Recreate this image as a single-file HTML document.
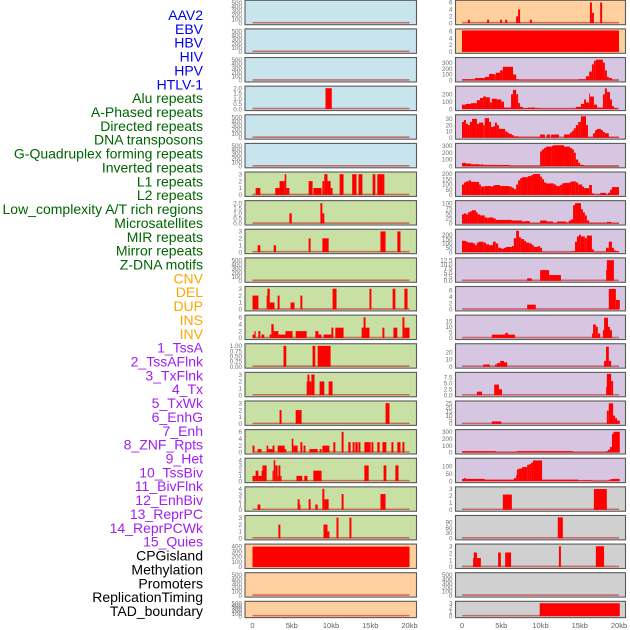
<!DOCTYPE html>
<html><head><meta charset="utf-8"><style>
html,body{margin:0;padding:0;background:#fff;}
svg{display:block;font-family:"Liberation Sans",sans-serif;}
</style></head><body>
<svg id="chart" width="630" height="630" viewBox="0 0 630 630" xmlns="http://www.w3.org/2000/svg"></svg>
<script>
// ---- track labels ----
const trackLabels = ["AAV2","EBV","HBV","HIV","HPV","HTLV-1","Alu repeats","A-Phased repeats","Directed repeats","DNA transposons","G-Quadruplex forming repeats","Inverted repeats","L1 repeats","L2 repeats","Low_complexity A/T rich regions","Microsatellites","MIR repeats","Mirror repeats","Z-DNA motifs","CNV","DEL","DUP","INS","INV","1_TssA","2_TssAFlnk","3_TxFlnk","4_Tx","5_TxWk","6_EnhG","7_Enh","8_ZNF_Rpts","9_Het","10_TssBiv","11_BivFlnk","12_EnhBiv","13_ReprPC","14_ReprPCWk","15_Quies","CPGisland","Methylation","Promoters","ReplicationTiming","TAD_boundary"];
const labelGroups = [6,13,5,15,5];
const groupColors = ["#0000ee","#006400","#ffa500","#a020f0","#000000"];
const xTickLabels = ["0","5kb","10kb","15kb","20kb"];
const xTickValues = [0,5,10,15,20];

// ---- left column ----
const tE = ["0","100","200","300","400","500"];
const t3 = ["0","1","2","3"], t4 = ["0","1","2","3","4"], t6 = ["0","2","4","6"];
const leftTicks = [tE,tE,tE,["0.0","0.5","1.0","1.5","2.0"],tE,tE,t3,["0.0","0.5","1.0","1.5","2.0"],t3,tE,t3,t6,["0.00","0.25","0.50","0.75","1.00"],t3,t3,t6,t4,t4,t3,["0","100","200","300","400"],tE,tE];
const leftYmax = [520,520,520,2.05,520,520,3.1,2.1,3.1,520,3.1,6.2,1.03,3.1,3.1,6.2,4.1,4.1,3.1,410,520,520];
const leftColors = ["#c8e4ec","#c8e4ec","#c8e4ec","#c8e4ec","#c8e4ec","#c8e4ec","#c8e0a4","#c8e0a4","#c8e0a4","#c8e0a4","#c8e0a4","#c8e0a4","#c8e0a4","#c8e0a4","#c8e0a4","#c8e0a4","#c8e0a4","#c8e0a4","#c8e0a4","#ffd09e","#ffd09e","#ffd09e"];
const leftBars = [
 [],[],[],
 [[9.3,10.1,2]],
 [],[],
 [[0.4,1.0,1],[2.9,3.45,1],[3.45,4.1,2],[4.1,4.3,3],[4.3,4.7,1],[7.15,7.65,2],[7.75,8.8,1],[8.9,9.15,2],[9.15,9.55,3],[9.55,9.95,2],[9.95,10.2,1],[11.1,11.6,3],[12.7,13.25,3],[13.5,14.0,3],[15.3,15.65,3],[15.9,16.8,3]],
 [[4.7,5.0,1],[8.65,8.9,2],[8.9,9.15,1]],
 [[0.65,1.0,1],[2.7,3.0,1],[7.15,7.4,2],[8.9,9.7,2],[16.3,16.95,3],[18.45,18.85,3]],
 [],
 [[0,0.75,2],[1.8,1.9,2],[1.9,2.2,3],[2.2,2.8,1],[3.2,3.45,2],[4.85,5.35,1],[6.1,6.35,2],[10.2,10.7,3],[14.9,15.15,3],[17.85,18.2,3],[19.35,19.75,3]],
 [[0,0.25,1],[0.25,0.4,2],[0.75,1.0,2],[1.15,1.5,1],[2.17,2.4,1],[2.4,2.7,4],[2.7,3.3,2],[3.3,4.2,1],[4.2,5.1,2],[5.5,6.9,2],[8.0,8.4,2],[8.4,8.8,1],[9.05,10.05,1],[10.05,10.3,3],[10.55,11.6,3],[13.9,14.15,3],[14.15,14.4,6],[14.4,14.9,3],[16.55,16.8,3],[17.95,18.45,3],[19.1,19.35,6],[19.35,20.0,3]],
 [[3.95,4.3,1],[7.65,8.0,1],[8.3,9.95,1]],
 [[6.9,7.0,2],[7.0,7.25,3],[7.25,7.5,2],[7.5,7.9,3],[8.55,9.15,2],[9.7,10.2,2]],
 [[3.45,3.7,2],[5.5,6.25,2],[16.95,17.45,3]],
 [[0,0.25,2],[0.65,1.15,1],[1.8,2.0,2],[2.0,2.55,1],[2.55,2.8,2],[3.2,4.1,2],[4.1,4.3,1],[5.0,5.2,4],[5.2,5.75,2],[6.1,6.35,3],[6.5,6.75,2],[7.25,8.3,1],[8.55,8.8,1],[8.9,9.8,2],[10.3,10.55,3],[11.35,11.6,6],[12.2,12.5,3],[12.75,13.0,3],[13.1,13.4,3],[13.5,13.75,3],[14.25,15.05,3],[15.15,15.4,3],[15.9,16.2,3],[16.55,17.05,3],[17.7,17.95,3],[18.45,18.85,3],[19.1,19.35,3]],
 [[0,0.4,1],[0.4,0.75,2],[0.75,1.15,1],[1.15,1.27,2],[1.27,1.8,3],[2.55,2.7,2],[2.7,2.9,4],[2.9,3.2,3],[3.2,3.3,1],[3.3,3.55,3],[3.55,3.7,1],[5.6,6.35,1],[6.6,7.0,1],[7.75,8.8,2],[14.25,14.8,3],[16.7,17.05,3],[18.2,18.6,3]],
 [[0.65,1.0,1],[5.75,6.0,2],[6.0,6.1,1],[7.15,7.4,2],[8.0,8.3,1],[8.9,9.15,4],[9.15,9.7,2],[11.35,11.6,3],[16.3,16.95,3]],
 [[3.3,3.55,2],[9.05,9.55,2],[9.55,9.8,1],[10.7,10.95,3],[12.35,12.6,3]],
 [[0,20,390]],
 [],[]
];

// ---- right column ----
const rightTicks = [t6,t6,["0","100","200","300"],["0","100","200"],["0","10","20","30"],["0","100","200","300"],["0","50","100","150","200"],["0","25","50","75","100"],["0","50","100","150","200"],["0.0","2.5","5.0","7.5","10.0","12.5"],t6,["0","5","10","15"],["0","10","20"],["0.0","2.5","5.0","7.5"],["0","5","10","15","20","25"],["0","100","200","300"],["0","50","100"],t3,["0","30","60","90"],t3,tE,t3];
const rightYmax = [6.2,6.3,360,290,34,315,205,105,245,13,6.8,19,30,9,26,310,145,3.1,120,3.1,520,3.1];
const rightColors = ["#ffd09e","#ffd09e","#d6c6e2","#d6c6e2","#d6c6e2","#d6c6e2","#d6c6e2","#d6c6e2","#d6c6e2","#d6c6e2","#d6c6e2","#d6c6e2","#d6c6e2","#d6c6e2","#d6c6e2","#d6c6e2","#d6c6e2","#d0d0d0","#d0d0d0","#d0d0d0","#d0d0d0","#d0d0d0"];
const rightBars = [
 [[0.75,1.0,1],[3.2,3.45,1],[4.85,5.1,1],[5.5,5.75,1],[6.9,7.15,2],[7.15,7.4,4],[8.65,8.9,1],[16.3,16.55,6],[16.55,16.8,3],[17.6,17.85,6]],
 [[0,20,6.3]],
 [[0,1.65,20],[1.65,2.9,40],[2.9,3.45,60],[3.45,4.1,110],[4.1,4.3,100],[4.3,4.85,130],[4.85,5.2,170],[5.2,6.5,230],[6.5,6.9,100],[6.9,7.25,20],[7.25,14.9,10],[14.9,15.8,20],[15.8,16.2,70],[16.2,16.55,150],[16.55,16.8,270],[16.8,17.05,330],[17.05,17.95,350],[17.95,18.2,300],[18.2,18.45,170],[18.45,18.7,60],[18.7,19.1,40],[19.1,20,10]],
 [[0,0.5,60],[0.5,1.15,70],[1.15,1.9,80],[1.9,2.3,120],[2.3,2.7,150],[2.7,3.05,170],[3.05,3.55,160],[3.55,3.8,90],[3.8,4.45,140],[4.45,5.0,130],[5.0,5.35,100],[5.35,6.25,20],[6.25,6.5,200],[6.5,6.9,260],[6.9,7.15,200],[7.15,7.4,80],[7.4,7.75,30],[7.75,8.4,10],[8.4,9.3,20],[9.3,9.95,10],[9.95,14.5,5],[14.5,15.15,30],[15.15,15.55,70],[15.55,15.8,130],[15.8,16.2,90],[16.2,16.3,210],[16.3,16.8,170],[16.8,17.2,60],[17.2,17.95,20],[17.95,18.2,200],[18.2,18.45,280],[18.45,18.85,230],[18.85,19.1,130],[19.1,19.35,40],[19.35,19.75,15]],
 [[0,0.25,25],[0.25,0.5,28],[0.5,0.75,22],[0.75,1.0,20],[1.0,1.27,25],[1.27,1.9,30],[1.9,2.17,22],[2.17,2.7,24],[2.7,2.9,20],[2.9,3.45,31],[3.45,3.7,25],[3.7,3.95,17],[3.95,4.2,18],[4.2,4.45,24],[4.45,4.7,20],[4.7,5.5,14],[5.5,5.75,10],[5.75,6.0,8],[6.0,6.35,6],[6.35,6.6,4],[6.6,7.25,2],[7.25,9.95,0.5],[9.95,10.55,5],[10.8,11.2,5],[11.35,12.35,5],[13.0,13.75,5],[13.75,14.0,8],[14.0,14.25,11],[14.25,14.5,15],[14.5,14.8,20],[14.8,15.15,25],[15.15,15.8,34],[15.8,16.05,20],[16.05,16.7,0.5],[16.7,16.95,7],[16.95,17.2,12],[17.2,17.7,14],[17.7,17.95,12],[17.95,18.2,9],[18.2,18.7,7],[18.7,20,0.5]],
 [[0,0.5,50],[0.5,1.15,40],[1.15,2.17,30],[2.17,2.55,25],[2.55,2.7,30],[2.7,6.1,20],[6.1,9.95,2],[9.95,10.2,220],[10.2,10.45,250],[10.45,10.7,270],[10.7,11.45,290],[11.45,11.6,300],[11.6,13.0,310],[13.0,13.75,290],[13.75,14.0,270],[14.0,14.25,250],[14.25,14.5,200],[14.5,14.8,100],[14.8,15.05,50],[15.05,15.55,20],[15.55,20,2]],
 [[0,0.25,100],[0.25,0.5,120],[0.5,0.9,130],[0.9,1.15,140],[1.15,2.17,125],[2.17,2.4,100],[2.4,2.9,80],[2.9,3.7,85],[3.7,3.95,80],[3.95,4.2,90],[4.2,4.85,95],[4.85,6.0,85],[6.0,6.35,80],[6.35,6.6,70],[6.6,6.9,55],[6.9,7.15,100],[7.15,7.4,140],[7.4,7.65,160],[7.65,8.4,170],[8.4,8.8,180],[8.8,9.05,190],[9.05,9.95,200],[9.95,10.2,175],[10.2,10.45,150],[10.45,10.7,120],[10.7,11.7,110],[11.7,12.0,100],[12.0,12.5,85],[12.5,12.75,95],[12.75,13.0,110],[13.0,13.75,115],[13.75,14.0,125],[14.0,14.5,130],[14.5,14.8,120],[14.8,15.3,100],[15.3,15.55,80],[15.55,16.2,65],[16.2,16.55,95],[16.55,16.8,15],[16.8,17.6,5],[17.6,18.35,20],[18.35,18.6,5],[18.6,18.85,20],[18.85,19.1,50],[19.1,20,75]],
 [[0,0.25,45],[0.25,0.5,50],[0.5,0.75,45],[0.75,1.0,55],[1.0,1.27,60],[1.27,1.78,65],[1.78,2.0,55],[2.0,2.3,45],[2.3,2.9,40],[2.9,3.2,30],[3.2,3.45,28],[3.45,3.95,30],[3.95,4.3,25],[4.3,6.35,18],[6.35,7.65,15],[7.65,8.0,10],[8.0,8.65,12],[8.65,9.95,2],[9.95,10.8,15],[10.8,11.6,10],[11.6,12.1,2],[12.1,13.25,10],[13.25,13.6,5],[13.6,13.9,15],[13.9,14.15,20],[14.15,14.4,90],[14.4,15.15,100],[15.15,15.4,70],[15.4,15.65,55],[15.65,15.9,40],[15.9,16.2,15],[16.2,18.45,2],[18.45,19.0,8],[19.0,20,2]],
 [[0,0.5,130],[0.5,0.75,120],[0.75,1.4,110],[1.4,1.65,100],[1.65,1.9,80],[1.9,2.17,110],[2.17,2.7,120],[2.7,3.05,110],[3.05,3.45,90],[3.45,3.95,80],[3.95,4.3,120],[4.3,4.6,100],[4.6,5.0,50],[5.0,5.35,40],[5.35,5.6,50],[5.6,6.35,60],[6.35,6.6,70],[6.6,6.9,160],[6.9,7.25,245],[7.25,7.5,170],[7.5,7.9,150],[7.9,8.15,130],[8.15,8.55,110],[8.55,8.9,100],[8.9,9.15,80],[9.15,9.7,60],[9.7,9.95,70],[9.95,10.2,50],[10.2,13.9,2],[13.9,14.4,10],[14.4,14.65,120],[14.65,14.9,180],[14.9,15.15,200],[15.15,15.65,180],[15.65,15.9,160],[15.9,16.55,190],[16.55,16.8,30],[16.8,18.35,2],[18.35,18.7,50],[18.7,19.1,120],[19.1,19.35,50],[19.35,19.6,20],[19.6,20,10]],
 [[8.3,8.9,1.5],[9.95,11.1,6.5],[11.1,12.6,3.5],[18.35,18.45,6.5],[18.45,19.35,12.5]],
 [[8.3,9.4,1.5],[18.7,19.6,6.5],[19.6,20.1,3]],
 [[3.8,5.5,3],[5.5,5.85,4.5],[5.85,6.75,3],[16.55,16.7,4],[16.7,17.05,12],[17.05,17.3,10],[17.3,17.6,4],[17.95,18.1,7],[18.1,18.6,18],[18.6,18.85,10],[18.85,19.1,7]],
 [[2.7,3.55,3],[4.2,4.45,3],[4.45,4.85,5],[4.85,5.35,8],[5.35,5.75,6],[18.1,18.35,8],[18.35,18.7,28],[18.7,19.0,8]],
 [[1.9,2.55,1.5],[4.1,4.7,4.5],[4.7,5.1,2.5],[18.35,18.45,3.5],[18.45,19.0,9],[19.0,19.25,6]],
 [[3.8,5.0,3],[18.45,18.7,16],[18.7,19.25,25],[19.25,19.5,10],[19.5,19.75,7],[19.75,20.1,4]],
 [[0,4.3,20],[4.3,7.0,5],[7.0,14.15,20],[14.15,18.35,5],[18.35,18.6,20],[18.6,18.85,40],[18.85,19.1,80],[19.1,19.3,270],[19.3,20.1,300]],
 [[0,0.25,15],[0.25,0.5,20],[0.5,2.9,15],[2.9,6.6,10],[6.6,6.9,20],[6.9,7.0,40],[7.0,7.25,80],[7.25,7.65,85],[7.65,8.3,95],[8.3,8.55,110],[8.55,8.8,115],[8.8,9.05,125],[9.05,10.2,140],[10.2,14.8,10],[14.8,16.55,5],[16.55,18.7,1],[18.7,19.0,10],[19.0,20.1,15]],
 [[5.2,6.35,2.2],[16.8,18.45,3]],
 [[12.2,12.85,118]],
 [[1.4,1.5,1.3],[1.5,1.9,2.1],[1.9,2.4,1.3],[4.6,4.95,2.1],[5.5,6.25,2.1],[12.35,12.6,3],[17.05,18.1,3]],
 [],
 [[9.9,20.1,3]]
];

// ---- drawing ----
const NS = "http://www.w3.org/2000/svg";
const svg = document.getElementById("chart");
function mk(tag, attrs, parent){
  const e = document.createElementNS(NS, tag);
  for (const k in attrs) e.setAttribute(k, attrs[k]);
  (parent || svg).appendChild(e);
  return e;
}
const rowTop = i => 0.3 + 28.62 * i;
const rowH = i => i === 21 ? 16.3 : 24.4;
const cols = [
  {name:"left", x0:245, x1:416.5, kb0:252.5, kb20:409.5, ticks:leftTicks, ymax:leftYmax, colors:leftColors, bars:leftBars},
  {name:"right", x0:455.5, x1:625.5, kb0:462, kb20:619, ticks:rightTicks, ymax:rightYmax, colors:rightColors, bars:rightBars}
];

// labels
let li = 0;
labelGroups.forEach((n, g) => {
  for (let k = 0; k < n; k++) {
    const t = mk("text", {x:203, y:(15 + li * 13.86 + 5).toFixed(1), "text-anchor":"end", "font-size":"14", fill:groupColors[g]});
    t.textContent = trackLabels[li];
    
    
    li++;
  }
});

cols.forEach(c => {
  const xs = kb => c.kb0 + (kb / 20) * (c.kb20 - c.kb0);
  for (let i = 0; i < 22; i++) {
    const top = rowTop(i), h = rowH(i), bot = top + h;
    const y0 = bot - 1.5, yt = top + 1.5;
    const ys = v => y0 - (v / c.ymax[i]) * (y0 - yt);
    const g = mk("g", {});
    
    
    const bg = mk("rect", {x:c.x0, y:top, width:c.x1 - c.x0, height:h, fill:c.colors[i]}, g);
    
    
    const base = mk("line", {x1:xs(0), x2:xs(20), y1:y0 - 0.5, y2:y0 - 0.5, stroke:"rgba(190,50,50,0.65)", "stroke-width":1.6}, g);
    
    
    c.bars[i].forEach(b => {
      const yv = Math.max(ys(b[2]), top);
      const r = mk("rect", {x:xs(b[0]).toFixed(2), y:yv.toFixed(2), width:Math.max(0.8, xs(b[1]) - xs(b[0])).toFixed(2), height:Math.max(0.5, y0 - yv).toFixed(2), fill:"#ff0000"}, g);
      
      
    });
    const bd = mk("rect", {x:c.x0, y:top, width:c.x1 - c.x0, height:h, fill:"none", stroke:"#5a5a5a", "stroke-width":1.1}, g);
    
    
    c.ticks[i].forEach(lbl => {
      const v = parseFloat(lbl);
      const t = mk("text", {x:c.x0 - 3, y:(ys(v) + 2.2).toFixed(2), "text-anchor":"end", "font-size":"6.3", fill:"#707070"}, g);
      t.textContent = lbl;
      
      
    });
  }
  xTickValues.forEach((v, k) => {
    const t = mk("text", {x:xs(v), y:628, "text-anchor":"middle", "font-size":"7.5", fill:"#606060"});
    t.textContent = xTickLabels[k];
    
    
  });
});
</script>
</body></html>
